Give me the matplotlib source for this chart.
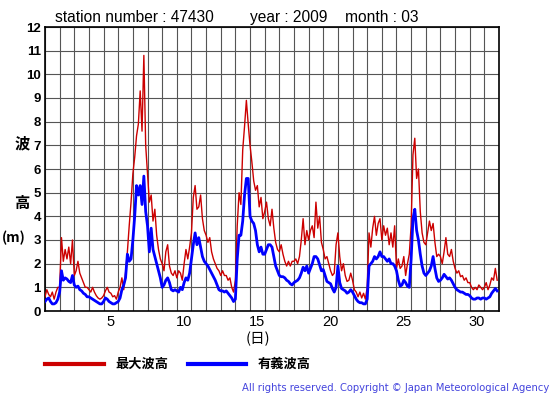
import numpy as np
import matplotlib
matplotlib.use("Agg")
import matplotlib.pyplot as plt

# wave heights (m), station 47430, March 2009, one value every 3 hours (8 per day)
max_wave = [
    0.6, 0.9, 0.7, 0.6, 0.8, 0.5, 0.8, 1.0,      # 1
    1.0, 3.1, 2.1, 2.6, 2.2, 2.7, 2.0, 3.0,      # 2
    1.5, 1.7, 2.1, 1.6, 1.4, 1.2, 1.0, 1.0,      # 3
    0.9, 0.8, 1.0, 0.8, 0.65, 0.55, 0.5, 0.55,   # 4
    0.65, 0.85, 1.0, 0.8, 0.75, 0.6, 0.65, 0.5,  # 5
    0.8, 1.0, 1.4, 0.9, 1.6, 2.5, 3.6, 4.6,      # 6
    5.8, 6.5, 7.4, 7.9, 9.3, 7.6, 10.8, 7.0,     # 7
    5.8, 4.6, 4.9, 3.8, 4.3, 3.2, 2.6, 2.2,      # 8
    2.0, 1.7, 2.5, 2.8, 1.9, 1.6, 1.5, 1.7,      # 9
    1.4, 1.7, 1.6, 1.3, 2.0, 2.6, 2.2, 2.7,      # 10
    3.3, 4.8, 5.3, 4.3, 4.4, 4.9, 3.9, 3.4,      # 11
    3.2, 2.9, 3.1, 2.5, 2.2, 2.0, 1.8, 1.7,      # 12
    1.5, 1.7, 1.5, 1.5, 1.3, 1.4, 1.0, 0.8,      # 13
    1.3, 3.6, 5.0, 4.5, 6.8, 7.8, 8.9, 7.9,      # 14
    7.0, 6.3, 5.5, 5.1, 5.3, 4.4, 4.8, 3.9,      # 15
    4.2, 4.6, 3.9, 3.6, 4.3, 3.5, 2.9, 2.6,      # 16
    2.5, 2.8, 2.4, 2.1, 1.9, 2.1, 1.9, 2.1,      # 17
    2.1, 2.2, 2.0, 2.3, 3.0, 3.9, 2.8, 3.4,      # 18
    3.0, 3.4, 3.6, 3.1, 4.6, 3.5, 4.0, 2.9,      # 19
    2.6, 2.2, 2.3, 2.0, 1.7, 1.5, 1.6, 2.8,      # 20
    3.3, 2.3, 1.7, 2.0, 1.5, 1.25, 1.3, 1.6,     # 21
    1.3, 0.9, 0.8, 0.6, 0.8, 0.55, 0.75, 0.5,    # 22
    1.0, 3.3, 2.7, 3.5, 4.0, 3.2, 3.7, 3.9,      # 23
    3.0, 3.6, 3.2, 3.5, 2.8, 3.3, 2.7, 3.6,      # 24
    1.8, 2.2, 1.8, 1.9, 2.3, 1.5, 2.0, 2.4,      # 25
    3.6, 6.6, 7.3, 5.6, 6.0, 4.2, 3.3, 2.9,      # 26
    2.8, 3.3, 3.8, 3.4, 3.7, 2.9, 2.3, 2.4,      # 27
    2.3, 2.0, 2.5, 3.1, 2.4, 2.3, 2.6, 2.1,      # 28
    1.8, 1.6, 1.7, 1.45, 1.5, 1.3, 1.4, 1.2,     # 29
    1.2, 1.0, 0.9, 1.0, 0.9, 1.1, 1.0, 0.9,      # 30
    1.0, 1.2, 0.9, 1.1, 1.4, 1.3, 1.8, 1.3,      # 31
]

sig_wave = [
    0.4, 0.5, 0.55, 0.4, 0.3, 0.3, 0.35, 0.5,    # 1
    0.8, 1.7, 1.3, 1.4, 1.35, 1.25, 1.2, 1.5,    # 2
    1.1, 1.0, 1.05, 0.9, 0.85, 0.75, 0.7, 0.6,   # 3
    0.6, 0.55, 0.5, 0.45, 0.4, 0.35, 0.3, 0.3,   # 4
    0.4, 0.55, 0.5, 0.4, 0.35, 0.3, 0.3, 0.35,   # 5
    0.4, 0.55, 0.9, 1.1, 1.4, 2.4, 2.1, 2.2,     # 6
    3.0, 4.0, 5.3, 4.9, 5.3, 4.5, 5.7, 4.2,      # 7
    3.6, 2.5, 3.5, 2.6, 2.3, 2.0, 1.7, 1.4,      # 8
    1.0, 1.1, 1.3, 1.4, 1.2, 0.9, 0.85, 0.9,     # 9
    0.85, 0.8, 1.0, 0.9, 1.2, 1.4, 1.3, 1.6,     # 10
    2.2, 2.8, 3.3, 2.8, 3.1, 2.7, 2.3, 2.1,      # 11
    2.0, 1.9, 1.75, 1.6, 1.45, 1.3, 1.1, 0.9,    # 12
    0.85, 0.85, 0.8, 0.85, 0.75, 0.65, 0.55, 0.4,  # 13
    0.5, 2.2, 3.2, 3.2, 3.8, 4.9, 5.6, 5.6,      # 14
    4.0, 3.8, 3.7, 3.4, 2.8, 2.5, 2.7, 2.4,      # 15
    2.4, 2.6, 2.8, 2.8, 2.7, 2.3, 1.9, 1.7,      # 16
    1.5, 1.45, 1.45, 1.4, 1.3, 1.25, 1.15, 1.1,  # 17
    1.2, 1.25, 1.3, 1.4, 1.6, 1.85, 1.7, 1.9,    # 18
    1.6, 1.8, 2.0, 2.3, 2.3, 2.2, 1.95, 1.7,     # 19
    1.75, 1.5, 1.25, 1.2, 1.15, 0.95, 0.8, 1.0,  # 20
    1.9, 1.2, 0.95, 0.9, 0.85, 0.75, 0.8, 0.9,   # 21
    0.8, 0.65, 0.5, 0.4, 0.35, 0.35, 0.3, 0.3,   # 22
    0.5, 1.9, 2.0, 2.1, 2.3, 2.2, 2.3, 2.5,      # 23
    2.3, 2.3, 2.2, 2.1, 2.2, 2.0, 2.0, 1.9,      # 24
    1.7, 1.3, 1.05, 1.1, 1.3, 1.2, 1.05, 1.0,    # 25
    2.2, 3.9, 4.3, 3.4, 3.0, 2.4, 1.9, 1.6,      # 26
    1.5, 1.6, 1.7, 1.9, 2.3, 1.8, 1.4, 1.25,     # 27
    1.3, 1.4, 1.55, 1.45, 1.35, 1.4, 1.3, 1.15,  # 28
    1.0, 0.9, 0.85, 0.8, 0.8, 0.75, 0.7, 0.7,    # 29
    0.65, 0.55, 0.5, 0.5, 0.55, 0.55, 0.5, 0.55,  # 30
    0.55, 0.5, 0.55, 0.6, 0.75, 0.85, 0.95, 0.85,  # 31
]

day_ticks = [5, 10, 15, 20, 25, 30]
height_ticks = list(range(0, 13))

n_days = 31
per_day = 8

RED = "#cc0000"
BLUE = "#0000ff"
CJK = ["Noto Sans CJK JP", "DejaVu Sans"]
plt.rcParams["font.family"] = ["Liberation Sans", "DejaVu Sans"]

t = np.arange(len(max_wave)) / per_day  # days since 1st 00:00

fig = plt.figure(figsize=(5.55, 3.95), dpi=100)
ax = fig.add_axes([45 / 555, 84 / 395, 454 / 555, 284 / 395])

ax.plot(t, max_wave, color=RED, lw=1.0, zorder=3)
ax.plot(t, sig_wave, color=BLUE, lw=2.0, zorder=4)

ax.set_xlim(0, n_days)
ax.set_ylim(0, 12)
ax.set_xticks([d - 0.5 for d in day_ticks])
ax.set_xticklabels([str(d) for d in day_ticks], fontsize=10.5)
ax.set_xticks(range(n_days + 1), minor=True)
ax.set_yticks(height_ticks)
ax.set_yticklabels([str(v) for v in height_ticks], fontsize=9.5, fontweight="bold")
ax.tick_params(axis="both", which="both", length=0, pad=3)
ax.grid(True, which="minor", axis="x", color="#555555", lw=0.8)
ax.grid(True, which="major", axis="y", color="#555555", lw=0.8)
for s in ax.spines.values():
    s.set_color("black")
    s.set_linewidth(1.2)

# header
fig.text(55 / 555, 1 - 22 / 395, "station number : 47430", fontsize=11.2, va="baseline")
fig.text(250 / 555, 1 - 22 / 395, "year : 2009", fontsize=11.2, va="baseline")
fig.text(345 / 555, 1 - 22 / 395, "month : 03", fontsize=11.2, va="baseline")

# y label, stacked
fig.text(22 / 555, 1 - 143 / 395, "波", family=CJK, fontsize=11, fontweight="bold", ha="center", va="center")
fig.text(22 / 555, 1 - 203 / 395, "高", family=CJK, fontsize=11, fontweight="bold", ha="center", va="center")
fig.text(14 / 555, 1 - 238 / 395, "(m)", family=CJK, fontsize=10, fontweight="bold", ha="center", va="center")

# x label
fig.text(258 / 555, 1 - 339 / 395, "(日)", family=CJK, fontsize=10.5, ha="center", va="center")

# legend
fig.add_artist(plt.Line2D([45 / 555, 104 / 555], [1 - 364 / 395] * 2, color=RED, lw=3))
fig.text(115 / 555, 1 - 364 / 395, "最大波高", family=CJK, fontsize=9.5, fontweight="bold", va="center")
fig.add_artist(plt.Line2D([188 / 555, 246 / 555], [1 - 364 / 395] * 2, color=BLUE, lw=3))
fig.text(258 / 555, 1 - 364 / 395, "有義波高", family=CJK, fontsize=9.5, fontweight="bold", va="center")

fig.text(549 / 555, 1 - 388 / 395, "All rights reserved. Copyright © Japan Meteorological Agency",
         fontsize=7.2, color="#4444dd", ha="right", va="center", family=["DejaVu Sans"])

fig.savefig("out.png", dpi=100)
